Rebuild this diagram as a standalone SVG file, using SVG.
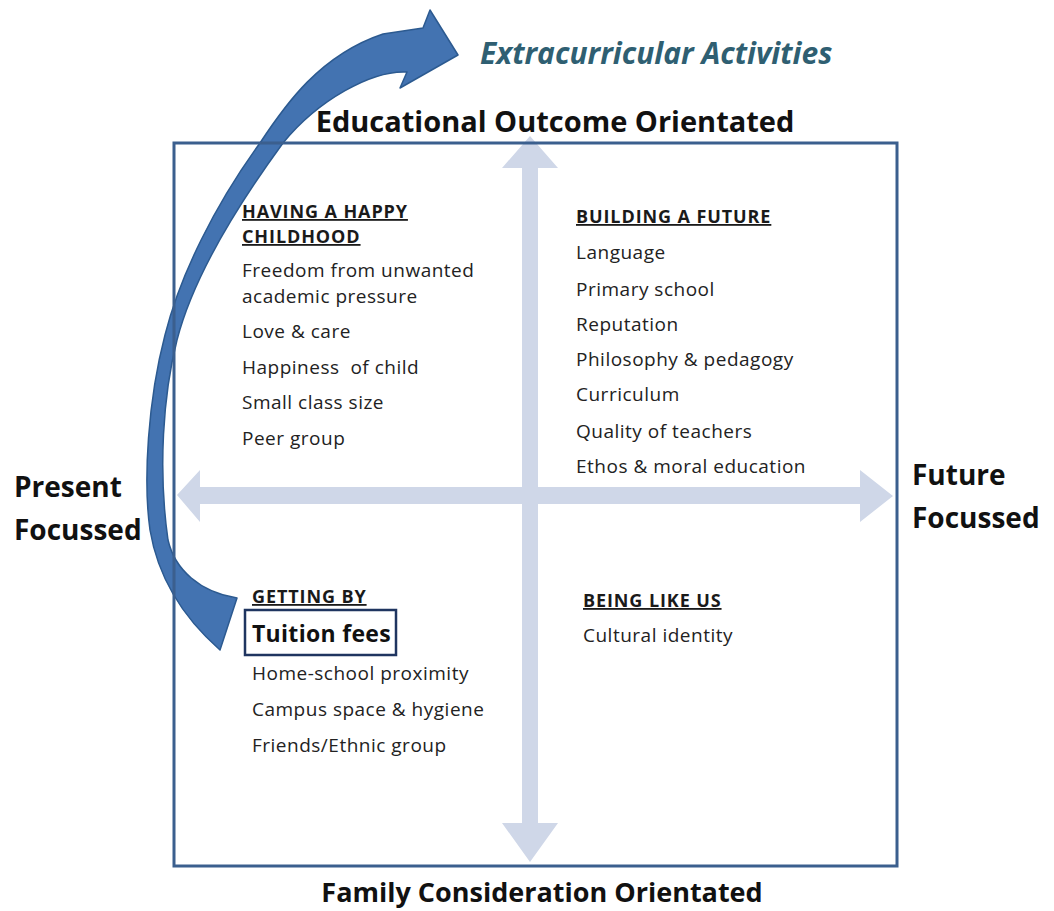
<svg xmlns="http://www.w3.org/2000/svg" width="1054" height="911" viewBox="0 0 1054 911">
<style>
text{font-family:"Open Sans","Liberation Sans",sans-serif;fill:#1a1a1a}
.axis{font-weight:bold;font-size:28px;fill:#111}
.title{font-weight:bold;font-size:18px;letter-spacing:0.9px;text-decoration:underline}
.item{font-size:19px;letter-spacing:0.5px;fill:#222}
.light{fill:#cfd7e8}
</style>
<rect width="1054" height="911" fill="#fff"/>
<g id="axes">
<path class="light" d="M522,168 L502,168 L530,136 L558,168 L538,168 L538,823 L558,823 L530,862 L502,823 L522,823 Z"/>
<path class="light" d="M200,487 L200,470 L177,495 L200,522 L200,504 L860,504 L860,522 L893,496 L860,470 L860,487 Z"/>
</g>
<g id="curved-arrow">
<path d="M220,650 C195,628 160,590 150,530 C143,480 148,400 165,335 C180,275 215,205 260,143 C285,105 320,55 383,34 L423,28 L430,10 L458,55 L400,88 L407,72 C372,70 318,100 283,143 C245,195 195,270 177,340 C163,395 158,470 168,540 C175,570 200,592 237,598 Z" fill="#4373b1" stroke="#2c5a90" stroke-width="1.5" stroke-linejoin="round"/>
</g>
<rect id="frame" x="174" y="143" width="723" height="723" fill="none" stroke="#3b5f8e" stroke-width="3"/>
<g id="labels">
<text x="480" y="64" font-size="30" font-style="italic" font-weight="bold" style="fill:#2f5f72">Extracurricular Activities</text>
<text class="axis" x="555" y="132" text-anchor="middle" font-size="29" style="font-size:29px">Educational Outcome Orientated</text>
<text class="axis" x="542" y="902" text-anchor="middle" style="font-size:27px">Family Consideration Orientated</text>
<text class="axis" x="14" y="497">Present</text>
<text class="axis" x="14" y="540">Focussed</text>
<text class="axis" x="912" y="485">Future</text>
<text class="axis" x="912" y="528">Focussed</text>
</g>
<g id="q-happy-childhood">
<text class="title" x="242" y="218">HAVING A HAPPY</text>
<text class="title" x="242" y="243">CHILDHOOD</text>
<text class="item" x="242" y="277">Freedom from unwanted</text>
<text class="item" x="242" y="303">academic pressure</text>
<text class="item" x="242" y="338">Love &amp; care</text>
<text class="item" x="242" y="374" xml:space="preserve">Happiness  of child</text>
<text class="item" x="242" y="409">Small class size</text>
<text class="item" x="242" y="445">Peer group</text>
</g>
<g id="q-building-future">
<text class="title" x="576" y="223">BUILDING A FUTURE</text>
<text class="item" x="576" y="259">Language</text>
<text class="item" x="576" y="296">Primary school</text>
<text class="item" x="576" y="331">Reputation</text>
<text class="item" x="576" y="366">Philosophy &amp; pedagogy</text>
<text class="item" x="576" y="401">Curriculum</text>
<text class="item" x="576" y="438">Quality of teachers</text>
<text class="item" x="576" y="473">Ethos &amp; moral education</text>
</g>
<g id="q-getting-by">
<text class="title" x="252" y="603">GETTING BY</text>
<rect x="245" y="610" width="151" height="45" fill="#fff" stroke="#1f3560" stroke-width="2.5"/>
<text x="252" y="642" font-size="23" font-weight="bold" letter-spacing="0.3" style="fill:#111">Tuition fees</text>
<text class="item" x="252" y="680">Home-school proximity</text>
<text class="item" x="252" y="716">Campus space &amp; hygiene</text>
<text class="item" x="252" y="752">Friends/Ethnic group</text>
</g>
<g id="q-being-like-us">
<text class="title" x="583" y="607">BEING LIKE US</text>
<text class="item" x="583" y="642">Cultural identity</text>
</g>
</svg>
